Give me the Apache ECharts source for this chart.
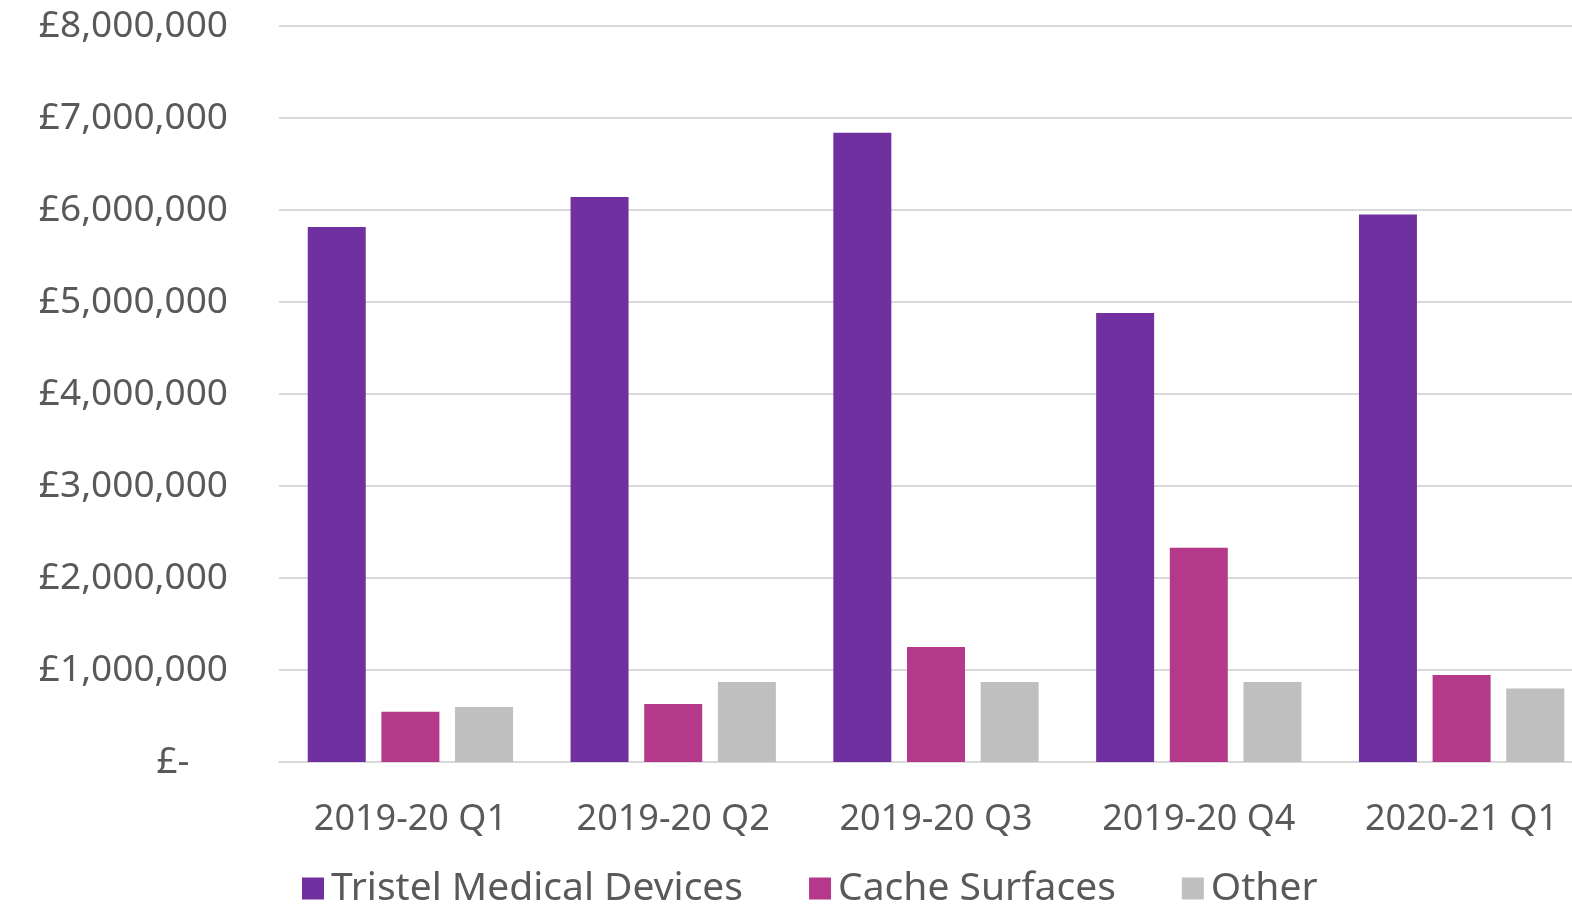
<!DOCTYPE html>
<html>
<head>
<meta charset="utf-8">
<script src="https://cdn.jsdelivr.net/npm/echarts@6/dist/echarts.min.js"></script>
<style>
  html, body { margin: 0; padding: 0; background: #fff; overflow: hidden; }
  #container { width: 1600px; height: 906px; }
</style>
</head>
<body>
<div id="container"></div>
<script>
var dom = document.getElementById('container');
var myChart = echarts.init(dom, null, { renderer: 'canvas' });

// quarters on the x axis
let quarters = ['2019-20 Q1', '2019-20 Q2', '2019-20 Q3', '2019-20 Q4', '2020-21 Q1'];
// revenue per segment (GBP)
let tristel = [5815000, 6140000, 6840000, 4880000, 5950000];
let cache = [545000, 630000, 1250000, 2330000, 945000];
let other = [598000, 870000, 870000, 870000, 800000];

let textColor = '#595959';
let font = 'Noto Sans';

function money(v) {
    if (v === 0) return '£-    ';
    return '£' + v.toLocaleString('en-GB');
}

var option = {
    textStyle: { fontFamily: font },
    grid: {
        left: 279,
        top: 26,
        width: 1314,
        height: 736
    },
    legend: {
        top: 864,
        left: 297,
        icon: 'rect',
        itemWidth: 22,
        itemHeight: 22,
        itemGap: 66,
        textStyle: { fontSize: 39, color: textColor, fontFamily: font, padding: [0, 0, 0, 2] },
        data: ['Tristel Medical Devices', 'Cache Surfaces', 'Other']
    },
    xAxis: {
        type: 'category',
        data: quarters,
        axisLine: { lineStyle: { color: '#D9D9D9', width: 2 } },
        axisTick: { show: false },
        axisLabel: { fontSize: 36, color: textColor, margin: 40, fontFamily: font }
    },
    yAxis: {
        type: 'value',
        min: 0,
        max: 8000000,
        interval: 1000000,
        axisLine: { show: false },
        axisTick: { show: false },
        splitLine: { lineStyle: { color: '#D9D9D9', width: 2 } },
        axisLabel: {
            fontSize: 37,
            color: textColor,
            margin: 51,
            fontFamily: font,
            formatter: money
        }
    },
    series: [
        {
            name: 'Tristel Medical Devices',
            type: 'bar',
            barWidth: 58,
            barGap: '27%',
            itemStyle: { color: '#7030A0' },
            data: tristel
        },
        {
            name: 'Cache Surfaces',
            type: 'bar',
            barWidth: 58,
            barGap: '27%',
            itemStyle: { color: '#B5398B' },
            data: cache
        },
        {
            name: 'Other',
            type: 'bar',
            barWidth: 58,
            barGap: '27%',
            itemStyle: { color: '#BFBFBF' },
            data: other
        }
    ]
};

myChart.setOption(option);
window.addEventListener('resize', myChart.resize);
</script>
</body>
</html>
